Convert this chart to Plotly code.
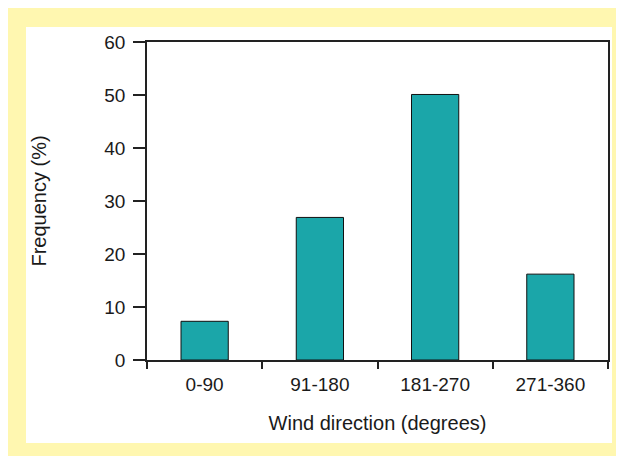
import plotly.graph_objects as go

categories = ["0-90", "91-180", "181-270", "271-360"]
frequency = [7.3, 26.9, 50.1, 16.2]
y_ticks = [0, 10, 20, 30, 40, 50, 60]

# The page body adds an 8px offset, so the figure is 616x448
W, H = 616, 448
L, R, T, B = 139, 16, 34, 96
pw, ph = W - L - R, H - T - B

def px(x):
    return (x - L) / pw

def py(y):
    return (H - B - y) / ph

fig = go.Figure()
fig.add_trace(go.Bar(
    x=categories, y=frequency,
    marker=dict(color="#1BA6A9", line=dict(color="#111111", width=1)),
    width=0.41,
))

fig.update_layout(
    width=W, height=H,
    margin=dict(l=L, r=R, t=T, b=B, pad=0),
    paper_bgcolor="#FFF7B0",
    plot_bgcolor="rgba(0,0,0,0)",
    showlegend=False,
    font=dict(family="Liberation Sans, Arial, sans-serif", size=17, color="#1a1a1a"),
    shapes=[
        dict(type="rect", xref="paper", yref="paper", layer="below",
             x0=px(18), x1=px(604), y0=py(19), y1=py(435),
             fillcolor="white", line=dict(width=0)),
    ],
    xaxis=dict(
        showline=True, linecolor="#222222", linewidth=1.5, mirror=True,
        ticks="outside", ticklen=7, tickcolor="#222222", tickwidth=1.5,
        tickson="boundaries", showgrid=False, ticklabelstandoff=6,
        title=dict(text="Wind direction (degrees)", standoff=22),
        tickfont=dict(size=19),
    ),
    yaxis=dict(
        range=[0, 60], tickvals=y_ticks,
        showline=True, linecolor="#222222", linewidth=1.5, mirror=True,
        ticks="outside", ticklen=12, tickcolor="#222222", tickwidth=1.5,
        showgrid=False, zeroline=False, ticklabelstandoff=4,
        title=dict(text="Frequency (%)", standoff=52),
        tickfont=dict(size=19),
    ),
)

fig.write_html("out.html")
